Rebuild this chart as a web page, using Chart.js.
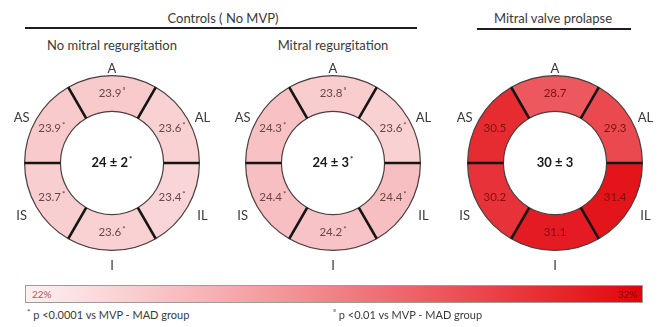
<!DOCTYPE html>
<html>
<head>
<meta charset="utf-8">
<script src="https://cdn.jsdelivr.net/npm/chart.js@4.4.1/dist/chart.umd.min.js"></script>
<style>
  body { margin: 0; width: 666px; height: 327px; background: #fff; position: relative; overflow: hidden;
         font-family: Lato, "Open Sans", sans-serif; color: #3a3a3a; }
  .c { position: absolute; transform: translate(-50%, -50%); white-space: nowrap; }
  .l { position: absolute; transform: translateY(-50%); white-space: nowrap; }
  .rule { position: absolute; height: 2px; background: #1e1e1e; }
  .ring { position: absolute; top: 48px; }
  #colorBar { position: absolute; left: 25px; top: 285px; width: 616px; height: 16px; border: 1px solid #9c9c9c; }
  .group { font-size: 13px; }
  .sub { font-size: 13px; }
  .foot { font-size: 11px; }
  sup { font-size: 8px; }
</style>
</head>
<body>
  <div class="c group" style="left:223px;top:18px">Controls ( No MVP)</div>
  <div class="rule" style="left:25px;top:27px;width:392px"></div>
  <div class="c group" style="left:553px;top:18px">Mitral valve prolapse</div>
  <div class="rule" style="left:477px;top:28px;width:154px"></div>

  <div class="c sub" style="left:112px;top:45px">No mitral regurgitation</div>
  <div class="c sub" style="left:333px;top:45px">Mitral regurgitation</div>

  <canvas id="ringNoReg" class="ring" style="left:1px" width="222" height="230"></canvas>
  <canvas id="ringReg" class="ring" style="left:222px" width="222" height="230"></canvas>
  <canvas id="ringMvp" class="ring" style="left:444px" width="222" height="230"></canvas>

  <div id="colorBar"></div>
  <div class="l" id="minLabel" style="left:32px;top:294px;font-size:10px;color:#b0585c"></div>
  <div class="l" id="maxLabel" style="left:618px;top:294px;font-size:10px;color:#7a0a0c"></div>

  <div class="l foot" style="left:27px;top:314px"><sup>*</sup> p &lt;0.0001 vs MVP - MAD group</div>
  <div class="l foot" style="left:333px;top:314px"><sup>ª</sup> p &lt;0.01 vs MVP - MAD group</div>

<script>
// segment order, clockwise starting at the top
const segments = ["A", "AL", "IL", "I", "IS", "AS"];
const segmentWeights = [1, 1, 1, 1, 1, 1];

const noRegValues = [23.9, 23.6, 23.4, 23.6, 23.7, 23.9];
const noRegMarks = ["ª", "*", "*", "*", "*", "*"];
const regValues = [23.8, 23.6, 24.4, 24.2, 24.4, 24.3];
const regMarks = ["ª", "*", "*", "*", "*", "*"];
const mvpValues = [28.7, 29.3, 31.4, 31.1, 30.2, 30.5];
const mvpMarks = ["", "", "", "", "", ""];

const globalMeans = [24, 24, 30];
const globalSDs = [2, 3, 3];
const globalMarks = ["*", "*", ""];

const scaleMin = 22;
const scaleMax = 32;

// white-pink to red colour ramp
function rampColor(v) {
  let t = (v - scaleMin) / (scaleMax - scaleMin);
  t = Math.pow(Math.min(Math.max(t, 0), 1), 1.1);
  const lo = [253, 240, 241], hi = [226, 4, 12];
  const c = lo.map((a, i) => Math.round(a + (hi[i] - a) * t));
  return `rgb(${c[0]},${c[1]},${c[2]})`;
}

const stops = [];
for (let i = 0; i <= 10; i++) {
  const v = scaleMin + (scaleMax - scaleMin) * i / 10;
  stops.push(`${rampColor(v)} ${i * 10}%`);
}
document.getElementById("colorBar").style.background = `linear-gradient(to right, ${stops.join(", ")})`;
document.getElementById("minLabel").textContent = `${scaleMin}%`;
document.getElementById("maxLabel").textContent = `${scaleMax}%`;

const bullseyePlugin = {
  id: "bullseye",
  afterDatasetsDraw(chart, args, opts) {
    const ctx = chart.ctx;
    const arcs = chart.getDatasetMeta(0).data;
    if (!arcs.length) return;
    const { x, y, innerRadius, outerRadius } = arcs[0].getProps(["x", "y", "innerRadius", "outerRadius"], true);
    ctx.save();

    // thick radial dividers between segments
    ctx.strokeStyle = "#151515";
    ctx.lineWidth = 2.6;
    arcs.forEach(arc => {
      const a = arc.startAngle;
      ctx.beginPath();
      ctx.moveTo(x + Math.cos(a) * innerRadius, y + Math.sin(a) * innerRadius);
      ctx.lineTo(x + Math.cos(a) * outerRadius, y + Math.sin(a) * outerRadius);
      ctx.stroke();
    });

    // segment values with significance marks
    ctx.textBaseline = "middle";
    arcs.forEach((arc, i) => {
      const p = arc.tooltipPosition();
      const txt = opts.values[i].toFixed(1);
      const mark = opts.marks[i];
      ctx.font = "11.5px Lato, sans-serif";
      const w1 = ctx.measureText(txt).width;
      ctx.font = "8px Lato, sans-serif";
      const w2 = mark ? ctx.measureText(mark).width + 1 : 0;
      const x0 = p.x - (w1 + w2) / 2;
      ctx.fillStyle = opts.textColor;
      ctx.textAlign = "left";
      ctx.font = "11.5px Lato, sans-serif";
      ctx.fillText(txt, x0, p.y);
      if (mark) {
        ctx.font = "8px Lato, sans-serif";
        ctx.fillText(mark, x0 + w1 + 1, p.y - 3);
      }
    });

    // segment names around the ring
    ctx.fillStyle = "#3a3a3a";
    ctx.font = "13px Lato, sans-serif";
    ctx.textAlign = "center";
    arcs.forEach((arc, i) => {
      const mid = (arc.startAngle + arc.endAngle) / 2;
      const lx = x + Math.cos(mid) * (outerRadius + 17);
      const ly = y + 4 + Math.sin(mid) * (outerRadius + 11);
      ctx.fillText(segments[i], lx, ly);
    });

    // global mean in the centre
    const main = `${opts.mean} ± ${opts.sd}`;
    ctx.font = "bold 13px Lato, sans-serif";
    const wm = ctx.measureText(main).width;
    ctx.font = "8px Lato, sans-serif";
    const wk = opts.centerMark ? ctx.measureText(opts.centerMark).width + 1 : 0;
    const cx0 = x - (wm + wk) / 2;
    ctx.fillStyle = "#1a1a1a";
    ctx.textAlign = "left";
    ctx.font = "bold 13px Lato, sans-serif";
    ctx.fillText(main, cx0, y);
    if (opts.centerMark) {
      ctx.font = "bold 8px Lato, sans-serif";
      ctx.fillText(opts.centerMark, cx0 + wm + 1, y - 4);
    }
    ctx.restore();
  }
};

function drawRing(id, values, marks, idx, textColor) {
  new Chart(document.getElementById(id), {
    type: "doughnut",
    data: {
      labels: segments,
      datasets: [{
        data: segmentWeights,
        backgroundColor: values.map(rampColor),
        borderColor: "#4a3e3e",
        borderWidth: 1.2
      }]
    },
    options: {
      responsive: false,
      animation: false,
      rotation: -30,
      cutout: "59%",
      layout: { padding: { left: 23, right: 23, top: 27, bottom: 27 } },
      plugins: {
        legend: { display: false },
        tooltip: { enabled: false },
        bullseye: {
          values, marks, textColor,
          mean: globalMeans[idx], sd: globalSDs[idx], centerMark: globalMarks[idx]
        }
      }
    },
    plugins: [bullseyePlugin]
  });
}

drawRing("ringNoReg", noRegValues, noRegMarks, 0, "#6a4649");
drawRing("ringReg", regValues, regMarks, 1, "#6a4649");
drawRing("ringMvp", mvpValues, mvpMarks, 2, "#7e1012");
</script>
</body>
</html>
